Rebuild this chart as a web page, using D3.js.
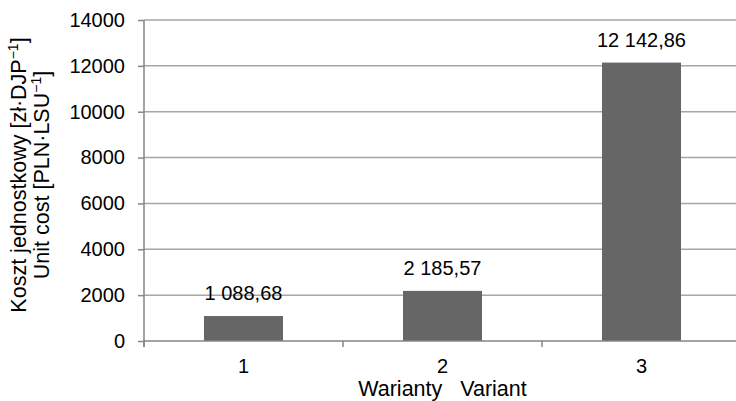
<!DOCTYPE html>
<html>
<head>
<meta charset="utf-8">
<script src="https://cdn.jsdelivr.net/npm/d3@7"></script>
<style>
  html, body { margin: 0; padding: 0; background: #fff; }
  svg { display: block; font-family: "Liberation Sans", Arial, sans-serif; }
</style>
</head>
<body>
<svg id="chart" width="736" height="401"></svg>
<script>
const categories = ["1", "2", "3"];
const values = [1088.68, 2185.57, 12142.86];
const valueLabels = ["1 088,68", "2 185,57", "12 142,86"];
const yTicks = [0, 2000, 4000, 6000, 8000, 10000, 12000, 14000];
const xTitle = "Warianty\u00a0\u00a0\u00a0Variant";

(function () {
const svg = d3.select("#chart");
const pLeft = 144, pRight = 741, pTop = 20, pBottom = 341;
const fontSize = 20;
const titleSize = 21.5;

const x = d3.scaleBand().domain(categories).range([pLeft, pRight]).paddingInner(0).paddingOuter(0);
const y = d3.scaleLinear().domain([0, 14000]).range([pBottom, pTop]);

// gridlines
svg.append("g").selectAll("line").data(yTicks.filter(d => d > 0)).join("line")
  .attr("x1", pLeft).attr("x2", 736)
  .attr("y1", d => y(d)).attr("y2", d => y(d))
  .attr("stroke", "#a6a6a6").attr("stroke-width", 1.5);

// bars
const barW = x.bandwidth() * 0.397;
svg.append("g").selectAll("rect").data(values).join("rect")
  .attr("x", (d, i) => x(categories[i]) + x.bandwidth() / 2 - barW / 2)
  .attr("width", barW)
  .attr("y", d => y(d))
  .attr("height", d => pBottom - y(d))
  .attr("fill", "#666666");

// value labels
svg.append("g").selectAll("text").data(values).join("text")
  .attr("x", (d, i) => x(categories[i]) + x.bandwidth() / 2)
  .attr("y", d => y(d) - 16)
  .attr("text-anchor", "middle")
  .attr("font-size", fontSize)
  .attr("fill", "#000")
  .text((d, i) => valueLabels[i]);

// y axis
const yAxis = d3.axisLeft(y).tickValues(yTicks).tickSize(6).tickPadding(13).tickFormat(d3.format("d"));
const gy = svg.append("g").attr("transform", `translate(${pLeft},0)`).call(yAxis);
gy.select(".domain").attr("stroke", "#868686").attr("stroke-width", 1.5).attr("d", `M0,${pTop}V${pBottom + 6}`);
gy.selectAll(".tick line").attr("stroke", "#868686").attr("stroke-width", 1.5);
gy.selectAll(".tick text").attr("font-size", fontSize).attr("fill", "#000")
  .attr("font-family", "Liberation Sans, Arial, sans-serif");

// x axis
const xAxis = d3.axisBottom(x).tickSize(0).tickPadding(18);
const gx = svg.append("g").attr("transform", `translate(0,${pBottom})`).call(xAxis);
gx.select(".domain").attr("stroke", "#868686").attr("stroke-width", 1.5).attr("d", `M${pLeft},0H736`);
gx.selectAll(".tick text").attr("font-size", fontSize).attr("fill", "#000")
  .attr("font-family", "Liberation Sans, Arial, sans-serif");
// category boundary ticks
const boundaries = categories.map(c => x(c)).concat([pRight]);
gx.append("g").selectAll("line").data(boundaries).join("line")
  .attr("x1", d => d).attr("x2", d => d).attr("y1", 0).attr("y2", 6)
  .attr("stroke", "#868686").attr("stroke-width", 1.5);

// x title
svg.append("text")
  .attr("x", (pLeft + pRight) / 2).attr("y", 395.5)
  .attr("text-anchor", "middle").attr("font-size", titleSize).attr("fill", "#000")
  .text(xTitle);

// y title (two lines)
const yt = svg.append("text")
  .attr("transform", `translate(0,175) rotate(-90)`)
  .attr("text-anchor", "middle").attr("font-size", titleSize).attr("fill", "#000");
const l1 = yt.append("tspan").attr("x", 0).attr("y", 25.5);
l1.append("tspan").text("Koszt jednostkowy [zł·DJP");
l1.append("tspan").attr("font-size", 14).attr("dy", -8).text("−1");
l1.append("tspan").attr("dy", 8).text("]");
const l2 = yt.append("tspan").attr("x", 0).attr("y", 48.5);
l2.append("tspan").text("Unit cost [PLN·LSU");
l2.append("tspan").attr("font-size", 14).attr("dy", -8).text("−1");
l2.append("tspan").attr("dy", 8).text("]");
})();
</script>
</body>
</html>
